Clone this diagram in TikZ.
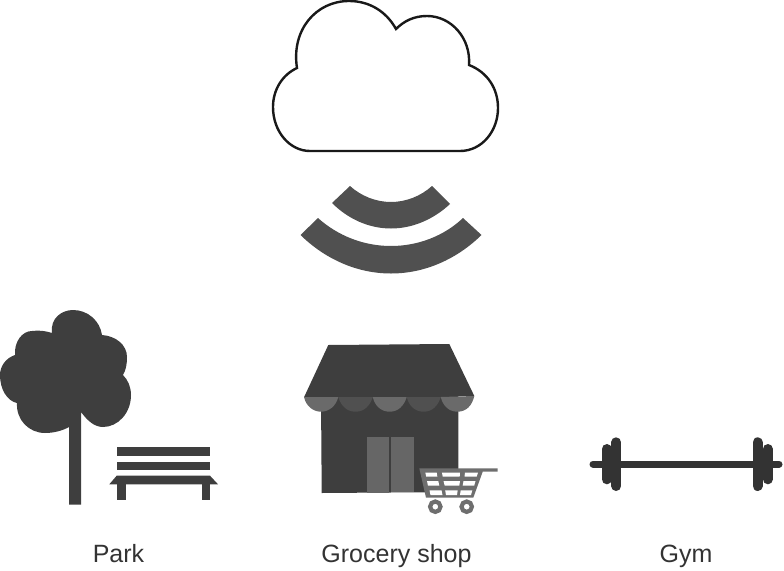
\documentclass[tikz,border=0pt]{standalone}
\usepackage{fontspec}
\setmainfont{Liberation Sans}
\definecolor{darkfill}{HTML}{3E3E3E}
\definecolor{barfill}{HTML}{333333}
\definecolor{wavefill}{HTML}{505050}
\definecolor{lightfill}{HTML}{6A6A6A}
\definecolor{midfill}{HTML}{505050}
\definecolor{doorfill}{HTML}{666666}
\definecolor{cartfill}{HTML}{6E6E6E}
\tikzset{
  solidshape/.style={fill=darkfill,draw=none},
  wave/.style={fill=wavefill,draw=none},
  plate/.style={line width=10pt,line cap=round,draw=barfill},
  cell/.style={fill=white,draw=none},
  wheel/.style={draw=cartfill,line width=4.2pt,fill=white},
  caption/.style={anchor=base,text=barfill,font=\fontsize{25}{30}\selectfont,inner sep=0pt}
}
\begin{document}
\begin{tikzpicture}[x=1pt,y=-1pt]
\useasboundingbox (0,0) rectangle (784,570);
% cloud
\draw[line width=2.4pt,draw=black!90,fill=white,line join=miter]
  (310,151) -- (460,151)
  .. controls (482,151) and (498,131) .. (498,108)
  .. controls (498,88) and (487,72) .. (469,65)
  .. controls (471,38) and (451,16) .. (427,16)
  .. controls (414,16) and (404,21) .. (396,29)
  .. controls (386,11) and (369,1) .. (349,1)
  .. controls (316,1) and (291,30) .. (297,68)
  .. controls (282,75) and (273,90) .. (273,107)
  .. controls (273,132) and (290,151) .. (310,151) -- cycle;
% waves
\fill[wave] (332,203) -- (350,186)
  .. controls (361,196) and (376,202) .. (391,202)
  .. controls (406,202) and (421,196) .. (432,186)
  -- (450,204)
  .. controls (434,219) and (413,228.500) .. (391,228.500)
  .. controls (369,228.500) and (348,219) .. (332,203) -- cycle;
\fill[wave] (300.5,235) -- (318,218)
  .. controls (338,236) and (364,246) .. (391,246)
  .. controls (418,246) and (444,236) .. (463,218)
  -- (481.5,235)
  .. controls (457,259) and (425,273.500) .. (391,273.500)
  .. controls (357,273.500) and (325,259) .. (300.5,235) -- cycle;
% tree
\fill[solidshape] (52,333)
  .. controls (50,318) and (62,310) .. (73,310)
  .. controls (88,310) and (100,321) .. (102,335)
  .. controls (116,336) and (127,345) .. (127,357)
  .. controls (127,364) and (126,370) .. (123,375)
  .. controls (128,380) and (131,387) .. (131,395)
  .. controls (131,413) and (118,427) .. (103,427)
  .. controls (94,427) and (87,420) .. (81,412)
  -- (81,504.5) -- (69,504.5) -- (69,427)
  .. controls (62,431) and (53,433) .. (45,433)
  .. controls (29,433) and (16,420) .. (17,403)
  .. controls (7,401) and (0,389) .. (0,375)
  .. controls (0,366) and (6,358) .. (15,355)
  .. controls (14,342) and (22,331) .. (32,331)
  .. controls (39,330) and (46,331) .. (52,333) -- cycle;
% bench
\fill[solidshape] (117.3,447.3) rectangle (210.3,456);
\fill[solidshape] (117.3,461.7) rectangle (210.3,470.3);
\fill[solidshape] (109.3,484.3) -- (116.7,475.7) -- (210,475.7) -- (218,484.3) -- cycle;
\fill[solidshape] (117.3,484) rectangle (125.7,500.3);
\fill[solidshape] (202,484) rectangle (210.3,500.3);
% shop
\fill[solidshape] (321,396) -- (458.3,396) -- (458.3,492) -- (321.7,493) -- cycle;
\fill[solidshape] (328.3,345) -- (449.3,344) -- (474.3,396) -- (304,397.3) -- cycle;
\fill[lightfill] (304,397) .. controls (306,406) and (313,411.700) .. (321,411.700) .. controls (329,411.700) and (336,406) .. (338.3,397) -- cycle;
\fill[midfill] (338.3,397) .. controls (341,406) and (347,411.700) .. (355.5,411.700) .. controls (364,411.700) and (370,406) .. (372.7,397) -- cycle;
\fill[lightfill] (372.7,397) .. controls (375,406) and (381,411.700) .. (389.7,411.700) .. controls (398,411.700) and (404,406) .. (406.7,397) -- cycle;
\fill[midfill] (406.7,397) .. controls (409,406) and (415,411.700) .. (423.7,411.700) .. controls (432,411.700) and (438,406) .. (440.7,397) -- cycle;
\fill[lightfill] (440.7,397) .. controls (443,406) and (449,411.700) .. (457.5,411.700) .. controls (466,411.700) and (472,406) .. (474.3,396) -- cycle;
\fill[doorfill] (366.7,437.3) rectangle (389.3,492.5);
\fill[doorfill] (391.3,437.3) rectangle (413.7,492);
% cart
\fill[cartfill] (419.3,468.3) -- (497.7,468.3) -- (497.7,471.7) -- (482.7,471.7) -- (473.3,497.7) -- (426,497.7) -- cycle;
\fill[cell] (425.3,472.5) -- (436.7,472.5) -- (437.3,476.5) -- (426.2,476.5) -- cycle;
\fill[cell] (441.9,472.5) -- (460,472.5) -- (459.7,476.5) -- (442.7,476.5) -- cycle;
\fill[cell] (465,472.5) -- (478,472.5) -- (476.7,476.5) -- (464.5,476.5) -- cycle;
\fill[cell] (427,481) -- (438.3,481) -- (439.3,485.7) -- (428,485.7) -- cycle;
\fill[cell] (443.5,481) -- (460,481) -- (459.3,485.7) -- (444.7,485.7) -- cycle;
\fill[cell] (463.5,481) -- (475.5,481) -- (474.2,485.7) -- (462.7,485.7) -- cycle;
\fill[cell] (429.5,490.3) -- (441.5,490.3) -- (442.5,495) -- (430.5,495) -- cycle;
\fill[cell] (445.2,490.3) -- (457.7,490.3) -- (457,495) -- (446,495) -- cycle;
\fill[cell] (460.7,490.3) -- (472.3,490.3) -- (471,495) -- (460,495) -- cycle;
\draw[wheel] (435.3,506.7) circle (5.2pt);
\draw[wheel] (466.7,506.7) circle (5.2pt);
% barbell
\draw[line width=7pt,line cap=round,draw=barfill] (593,464) -- (779,464);
\draw[plate] (616.3,442.3) -- (616.3,486);
\draw[plate] (606.7,449) -- (606.7,479.3);
\draw[plate] (757.5,442.3) -- (757.5,486);
\draw[plate] (767.7,449) -- (767.7,479.3);
% captions
\node[caption] (park) at (118.5,562.7) {Park};
\node[caption] (grocery) at (396.5,562.7) {Grocery shop};
\node[caption] (gym) at (686,562.7) {Gym};
\end{tikzpicture}
\end{document}
